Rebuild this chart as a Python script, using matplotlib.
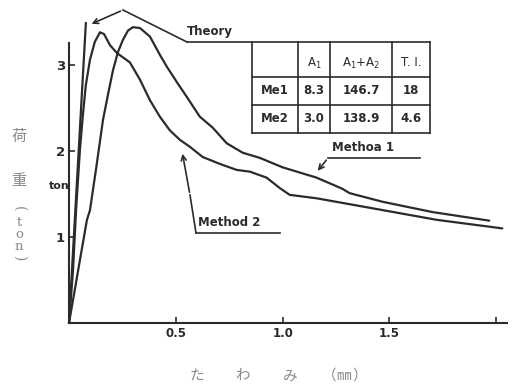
import matplotlib
matplotlib.use("Agg")
import matplotlib.pyplot as plt

W, H = 512, 386

# load-deflection curves (deflection mm, load ton)
theory_x = [0.0, 0.079]
theory_y = [0.0, 3.49]

m1_x = [0.0, 0.019, 0.051, 0.084, 0.098, 0.126, 0.159, 0.182, 0.206, 0.229, 0.252,
        0.276, 0.299, 0.332, 0.379, 0.425, 0.458, 0.505, 0.551, 0.612, 0.673, 0.738,
        0.813, 0.893, 1.000, 1.159, 1.280, 1.313, 1.467, 1.701, 1.967]
m1_y = [0.0, 0.27, 0.73, 1.20, 1.31, 1.78, 2.36, 2.65, 2.94, 3.15, 3.29,
        3.40, 3.44, 3.43, 3.33, 3.12, 2.98, 2.80, 2.63, 2.40, 2.27, 2.09,
        1.98, 1.92, 1.81, 1.69, 1.56, 1.51, 1.41, 1.29, 1.19]

m2_x = [0.0, 0.019, 0.033, 0.051, 0.065, 0.079, 0.098, 0.121, 0.145, 0.164, 0.192,
        0.224, 0.285, 0.332, 0.379, 0.425, 0.472, 0.519, 0.565, 0.626, 0.706, 0.785,
        0.846, 0.925, 0.986, 1.033, 1.159, 1.407, 1.720, 2.028]
m2_y = [0.0, 0.62, 1.31, 2.01, 2.42, 2.77, 3.06, 3.27, 3.38, 3.36, 3.23,
        3.14, 3.03, 2.83, 2.59, 2.40, 2.24, 2.13, 2.05, 1.93, 1.85, 1.78,
        1.76, 1.69, 1.57, 1.49, 1.45, 1.34, 1.20, 1.10]

x_ticks = [0.5, 1.0, 1.5, 2.0]
x_ticklabels = ["0.5", "1.0", "1.5", ""]
y_ticks = [1, 2, 3]

tbl_header = ["", r"A$_1$", r"A$_1$+A$_2$", "T. I."]
tbl_rows = [["Me1", "8.3", "146.7", "18"],
            ["Me2", "3.0", "138.9", "4.6"]]

INK = "#2b2b2b"
GRAY = "#8a8a8a"

fig = plt.figure(figsize=(W / 100, H / 100), dpi=100)
ax = fig.add_axes([69 / W, 1 - 323 / H, 438 / W, 323 / H])
ax.set_xlim(0, 2.05)
ax.set_ylim(0, 323 / 86)

for xs, ys in [(theory_x, theory_y), (m1_x, m1_y), (m2_x, m2_y)]:
    ax.plot(xs, ys, color=INK, lw=1.6, clip_on=False, solid_capstyle="round")

for s in ["top", "right"]:
    ax.spines[s].set_visible(False)
ax.spines["left"].set_bounds(0, (323 - 43) / 86)
for s in ["left", "bottom"]:
    ax.spines[s].set_color(INK)
    ax.spines[s].set_linewidth(1.5)

ax.set_xticks(x_ticks)
ax.set_xticklabels(x_ticklabels, fontsize=8.5, fontweight="bold", color=INK)
ax.set_yticks(y_ticks)
ax.set_yticklabels([str(v) for v in y_ticks], fontsize=9.5, fontweight="bold", color=INK)
ax.tick_params(direction="in", length=4, width=1.2, color=INK, pad=3)

# overlay in pixel coords for labels, arrows and the small table
ov = fig.add_axes([0, 0, 1, 1])
ov.set_xlim(0, W)
ov.set_ylim(H, 0)
ov.axis("off")
ov.patch.set_alpha(0)

lk = dict(color=INK, lw=1.2)
arw = dict(arrowstyle="->", color=INK, lw=1.2, mutation_scale=9)

# Theory
ov.text(187, 38, "Theory", fontsize=8.5, fontweight="bold", color=INK, va="bottom")
ov.plot([187, 430], [42, 42], **lk)
ov.plot([187, 123], [42, 10], **lk)
ov.annotate("", xy=(89, 25), xytext=(123, 10), arrowprops=arw)

# Method 1
ov.text(332, 154, "Methoa 1", fontsize=8.5, fontweight="bold", color=INK, va="bottom")
ov.plot([328, 420], [158, 158], **lk)
ov.annotate("", xy=(316, 173), xytext=(328, 158), arrowprops=arw)

# Method 2
ov.text(198, 229, "Method 2", fontsize=8.5, fontweight="bold", color=INK, va="bottom")
ov.plot([196, 280], [233, 233], **lk)
ov.plot([196, 190], [233, 195], **lk)
ov.annotate("", xy=(182, 151), xytext=(190, 195), arrowprops=arw)

# table
cols = [252, 298, 330, 392, 430]
rows = [42, 77, 105, 133]
for c in cols:
    ov.plot([c, c], [rows[0], rows[-1]], **lk)
for r in rows[1:]:
    ov.plot([cols[0], cols[-1]], [r, r], **lk)
ccx = [(cols[i] + cols[i + 1]) / 2 for i in range(4)]
for i, t in enumerate(tbl_header):
    ov.text(ccx[i], 63, t, fontsize=8.5, color=INK, ha="center", va="center")
for j, row in enumerate(tbl_rows):
    cy = (rows[j + 1] + rows[j + 2]) / 2
    for i, t in enumerate(row):
        ov.text(ccx[i], cy, t, fontsize=8.5, fontweight="bold", color=INK,
                ha="center", va="center")

# axis labels
ov.text(70, 186, "ton", fontsize=8, fontweight="bold", color=INK, ha="right", va="center")
jp = ["Noto Sans CJK JP", "DejaVu Sans"]
ov.text(19, 136, "荷", fontsize=11, color=GRAY, ha="center", va="center", family=jp)
ov.text(19, 181, "重", fontsize=11, color=GRAY, ha="center", va="center", family=jp)
ov.text(19, 209, "(", fontsize=10, color=GRAY, ha="center", va="center",
        rotation=-90, family="DejaVu Serif")
for ch, yy in [("t", 222), ("o", 234), ("n", 246)]:
    ov.text(19, yy, ch, fontsize=9.5, color=GRAY, ha="center", va="center",
            family="DejaVu Serif")
ov.text(19, 258, ")", fontsize=10, color=GRAY, ha="center", va="center",
        rotation=-90, family="DejaVu Serif")

for ch, xx in [("た", 197), ("わ", 243), ("み", 290), ("（", 329), ("㎜", 344), ("）", 360)]:
    ov.text(xx, 376, ch, fontsize=10.5, color=GRAY, ha="center", va="center", family=jp)

fig.savefig("out.png", dpi=100)
